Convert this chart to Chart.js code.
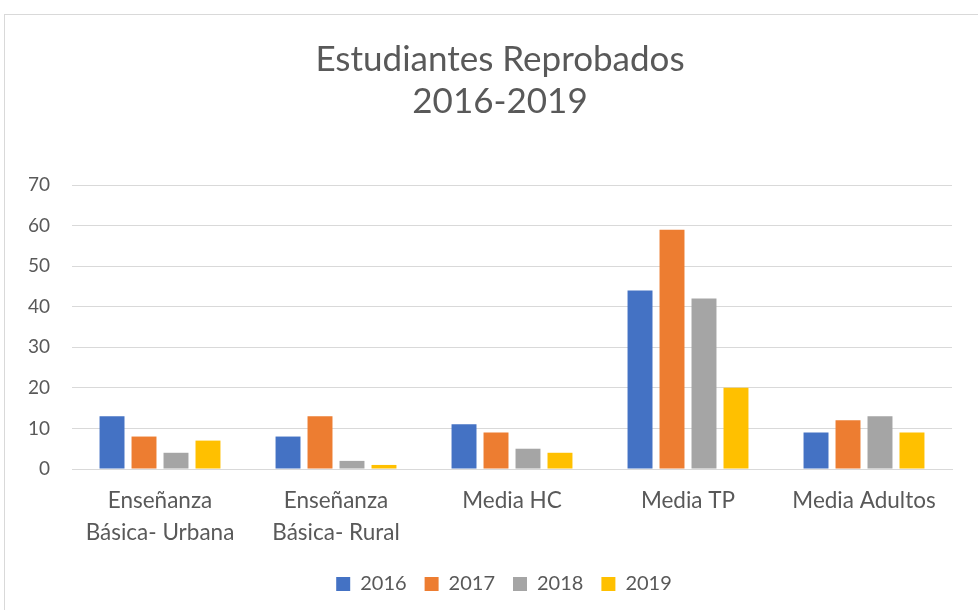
<!DOCTYPE html>
<html><head><meta charset="utf-8">
<script src="https://cdn.jsdelivr.net/npm/chart.js@4"></script>
<style>html,body{margin:0;padding:0;background:#fff;}#w{width:978px;height:610px;position:relative;}</style>
</head><body><div id="w"><canvas id="c" width="978" height="610"></canvas></div>
<script>
const categories = [["Enseñanza","Básica- Urbana"],["Enseñanza","Básica- Rural"],"Media HC","Media TP","Media Adultos"];
const seriesNames = ["2016","2017","2018","2019"];
const v2016 = [13, 8, 11, 44, 9];
const v2017 = [8, 13, 9, 59, 12];
const v2018 = [4, 2, 5, 42, 13];
const v2019 = [7, 1, 4, 20, 9];
const yTicks = [0,10,20,30,40,50,60,70];
const titleLines = ["Estudiantes Reprobados","2016-2019"];

const colors = ["#4472C4","#ED7D31","#A5A5A5","#FFC000"];
const values = [v2016, v2017, v2018, v2019];
const FONT = "Lato, 'Liberation Sans', sans-serif";
const TXT = "#595959";

const borderPlugin = {
  id:'border',
  beforeDraw(chart){
    const ctx = chart.ctx;
    ctx.save();
    ctx.fillStyle = '#fff';
    ctx.fillRect(0,0,chart.width,chart.height);
    ctx.strokeStyle = '#d9d9d9';
    ctx.lineWidth = 1;
    ctx.strokeRect(4.5, 14.5, chart.width + 10, chart.height + 10);
    ctx.restore();
  },
  afterLayout(chart){
    if (chart.legend) { chart.legend.left += 28; }
    if (chart.titleBlock) { chart.titleBlock.left += 20; }
  }
};

new Chart(document.getElementById('c'), {
  type:'bar',
  data:{
    labels: categories,
    datasets: seriesNames.map((n,i)=>({
      label:n, data: values[i], backgroundColor: colors[i],
      barPercentage:0.78, categoryPercentage:0.727
    }))
  },
  options:{
    responsive:false, animation:false,
    layout:{padding:{left:28,right:26,top:20,bottom:6}},
    plugins:{
      title:{display:true,text:titleLines,color:TXT,font:{family:FONT,size:35,weight:'normal',lineHeight:1.2},padding:{top:19,bottom:62}},
      legend:{position:'bottom',labels:{color:TXT,font:{family:FONT,size:20},boxWidth:14,boxHeight:14,padding:18}},
      tooltip:{enabled:false}
    },
    scales:{
      y:{min:0,max:70,
        afterBuildTicks(axis){axis.ticks = yTicks.map(v=>({value:v}));},
        afterFit(axis){axis.width = 44;},
        grid:{color:'#d9d9d9',drawTicks:false},
        border:{display:false},
        ticks:{color:TXT,font:{family:FONT,size:19},padding:22}
      },
      x:{
        afterFit(axis){axis.height = 87;},
        grid:{display:false,drawTicks:false},
        border:{display:true,color:'#d9d9d9',width:1},
        ticks:{color:TXT,font:{family:FONT,size:22.5,lineHeight:1.42},padding:16,maxRotation:0,autoSkip:false}
      }
    }
  },
  plugins:[borderPlugin]
});
</script>
</body></html>
